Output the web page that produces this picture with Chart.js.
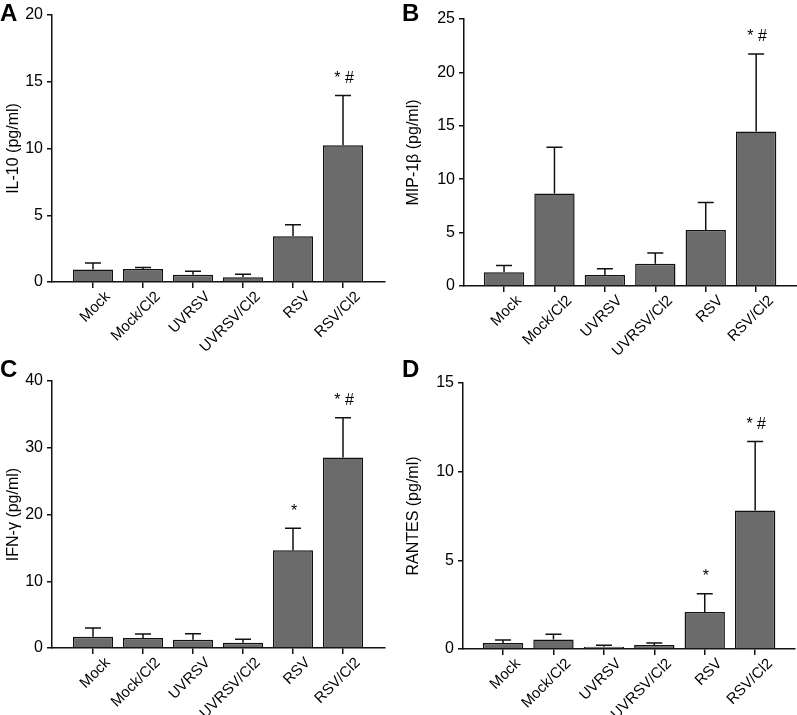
<!DOCTYPE html>
<html>
<head>
<meta charset="utf-8">
<script src="https://cdn.jsdelivr.net/npm/chart.js@4.4.1/dist/chart.umd.min.js"></script>
<style>
  body { margin: 0; background: #fff; width: 797px; height: 715px; position: relative; overflow: hidden;
         font-family: 'Liberation Sans', Arial, sans-serif; }
  canvas { position: absolute; }
  .letter { position: absolute; font-weight: bold; font-size: 24px; line-height: 1; color: #000; }
</style>
</head>
<body>
<canvas id="chartA" width="400" height="355" style="left:0;top:0"></canvas>
<canvas id="chartB" width="397" height="355" style="left:400px;top:0"></canvas>
<canvas id="chartC" width="400" height="360" style="left:0;top:355px"></canvas>
<canvas id="chartD" width="397" height="360" style="left:400px;top:355px"></canvas>
<div class="letter" style="left:0;top:1px">A</div>
<div class="letter" style="left:402px;top:1px">B</div>
<div class="letter" style="left:0;top:357px">C</div>
<div class="letter" style="left:402px;top:357px">D</div>
<script>
  // 그룹 (x축)
  const groups = ['Mock', 'Mock/Cl2', 'UVRSV', 'UVRSV/Cl2', 'RSV', 'RSV/Cl2'];

  // A: IL-10 평균 / 오차막대 끝
  const il10 = [0.93, 0.98, 0.55, 0.35, 3.43, 10.24];
  const il10Top = [1.43, 1.08, 0.80, 0.58, 4.28, 13.97];
  const il10Marks = ['', '', '', '', '', '* #'];

  // B: MIP-1β
  const mip1b = [1.28, 8.67, 1.03, 2.09, 5.24, 14.46];
  const mip1bTop = [1.93, 13.0, 1.62, 3.09, 7.82, 21.73];
  const mip1bMarks = ['', '', '', '', '', '* #'];

  // C: IFN-γ
  const ifng = [1.7, 1.5, 1.25, 0.8, 14.65, 28.55];
  const ifngTop = [3.0, 2.1, 2.15, 1.3, 17.95, 34.5];
  const ifngMarks = ['', '', '', '', '*', '* #'];

  // D: RANTES
  const rantes = [0.34, 0.54, 0.13, 0.23, 2.08, 7.81];
  const rantesTop = [0.51, 0.83, 0.21, 0.34, 3.12, 11.7];
  const rantesMarks = ['', '', '', '', '*', '* #'];

  const FONT = "'Liberation Sans', Arial, sans-serif";
  const BAR = '#6b6b6b';
  const INK = '#111';

  // 오차막대 + 유의성 표시
  const errorBarPlugin = {
    id: 'errorBars',
    afterDatasetsDraw(chart, args, opts) {
      const { ctx } = chart;
      const xs = chart.scales.x, ys = chart.scales.y;
      ctx.save();
      ctx.strokeStyle = INK;
      ctx.lineWidth = 1.5;
      opts.values.forEach((v, i) => {
        const x = xs.getPixelForValue(i);
        const y0 = ys.getPixelForValue(v);
        const y1 = ys.getPixelForValue(opts.tops[i]);
        ctx.beginPath();
        ctx.moveTo(x, y0);
        ctx.lineTo(x, y1);
        ctx.moveTo(x - 8, y1);
        ctx.lineTo(x + 8, y1);
        ctx.stroke();
        if (opts.marks[i]) {
          ctx.fillStyle = '#000';
          ctx.font = '16px ' + FONT;
          ctx.textAlign = 'center';
          ctx.textBaseline = 'middle';
          ctx.fillText(opts.marks[i], x + 1, y1 - 17);
        }
      });
      ctx.restore();
    }
  };

  function makePanel(id, cfg) {
    new Chart(document.getElementById(id), {
      type: 'bar',
      data: {
        datasets: [{
          data: cfg.values.map((v, i) => ({ x: i, y: v })),
          backgroundColor: BAR,
          borderColor: INK,
          borderWidth: 1.5,
          categoryPercentage: 1,
          barPercentage: 0.8
        }]
      },
      options: {
        responsive: false,
        animation: false,
        devicePixelRatio: 1,
        layout: { padding: { top: cfg.padTop, right: cfg.padRight, left: 0, bottom: 0 } },
        plugins: {
          legend: { display: false },
          tooltip: { enabled: false },
          errorBars: { values: cfg.values, tops: cfg.tops, marks: cfg.marks }
        },
        scales: {
          x: {
            type: 'linear',
            offset: false,
            min: cfg.xMin,
            max: cfg.xMax,
            afterBuildTicks: axis => { axis.ticks = groups.map((g, i) => ({ value: i })); },
            afterFit: scale => { scale.height = cfg.xHeight; },
            grid: { offset: false, drawOnChartArea: false, drawTicks: true, tickLength: 6, color: INK, lineWidth: 1.5 },
            border: { display: true, color: INK, width: 1.5 },
            ticks: {
              autoSkip: false,
              minRotation: 45,
              maxRotation: 45,
              labelOffset: 15,
              padding: 0,
              color: '#000',
              font: { family: FONT, size: 15 },
              callback: v => groups[v]
            }
          },
          y: {
            min: 0,
            max: cfg.yMax,
            afterFit: scale => { scale.width = cfg.yWidth; },
            grid: { drawOnChartArea: false, drawTicks: true, tickLength: 5, color: INK, lineWidth: 1.5 },
            border: { display: true, color: INK, width: 1.5 },
            ticks: { stepSize: cfg.yStep, padding: 4, color: '#000', font: { family: FONT, size: 16 } },
            title: { display: true, text: cfg.yTitle, color: '#000', padding: { top: 4, bottom: 0 },
                     font: { family: FONT, size: 16 } }
          }
        }
      },
      plugins: [errorBarPlugin]
    });
  }

  makePanel('chartA', { values: il10, tops: il10Top, marks: il10Marks, yTitle: 'IL-10 (pg/ml)',
    yMax: 20, yStep: 5, xMin: -0.82, xMax: 5.84, padTop: 15, padRight: 15, yWidth: 52, xHeight: 73 });
  makePanel('chartB', { values: mip1b, tops: mip1bTop, marks: mip1bMarks, yTitle: 'MIP-1β (pg/ml)',
    yMax: 25, yStep: 5, xMin: -0.794, xMax: 5.81, padTop: 19, padRight: 0, yWidth: 64, xHeight: 69 });
  makePanel('chartC', { values: ifng, tops: ifngTop, marks: ifngMarks, yTitle: 'IFN-γ (pg/ml)',
    yMax: 40, yStep: 10, xMin: -0.82, xMax: 5.84, padTop: 26, padRight: 15, yWidth: 52, xHeight: 67 });
  makePanel('chartD', { values: rantes, tops: rantesTop, marks: rantesMarks, yTitle: 'RANTES (pg/ml)',
    yMax: 15, yStep: 5, xMin: -0.794, xMax: 5.79, padTop: 28, padRight: 2, yWidth: 63, xHeight: 66 });
</script>
</body>
</html>
